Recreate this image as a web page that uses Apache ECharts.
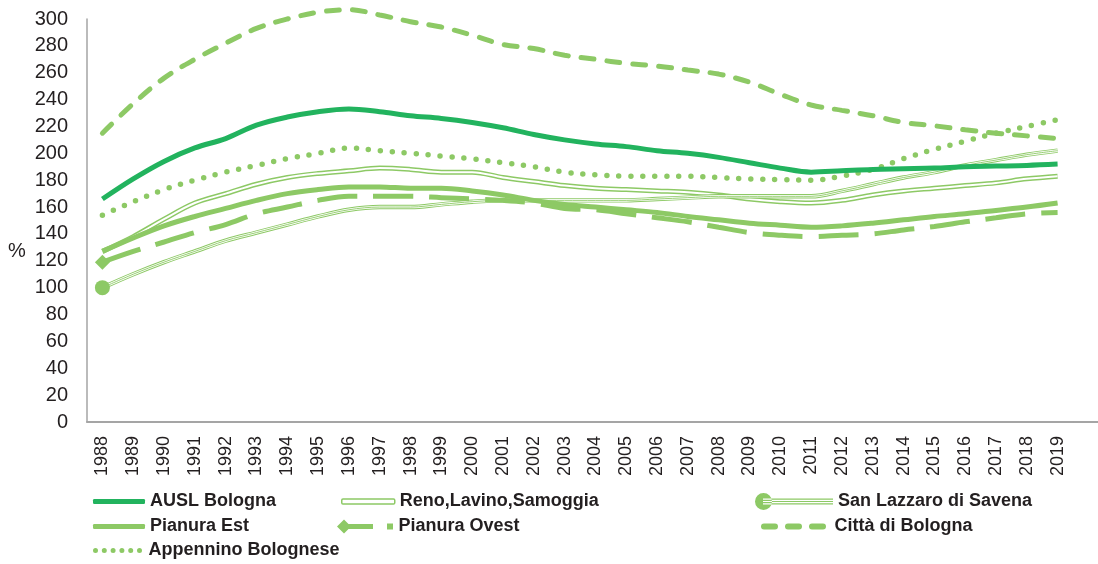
<!DOCTYPE html>
<html>
<head>
<meta charset="utf-8">
<script src="https://cdn.jsdelivr.net/npm/echarts@6/dist/echarts.min.js"></script>
<style>
  html, body { margin: 0; padding: 0; background: #fff; }
  #chart { width: 1098px; height: 564px; }
</style>
</head>
<body>
<div id="chart"></div>
<script>
const years = ["1988","1989","1990","1991","1992","1993","1994","1995","1996","1997","1998","1999","2000","2001","2002","2003","2004","2005","2006","2007","2008","2009","2010","2011","2012","2013","2014","2015","2016","2017","2018","2019"];

const ausl = [166,181,194,204,211,221,227,231,233,231,228,226,223,219,214,210,207,205,202,200,197,193,189,186,187,188,188.5,189,190,190.5,191,192];
const reno = [127,138,151,163,170,177,182,185,187,189,188,186,186,182,179,176,174,173,172,171,169,166,164,163,165,169,172,174,176,178,181,183];
const sanLazzaro = [100,110,119,127,135,141,147,153,158,160,160,162,164,165,165,165,165,165,166,167,168,168,168,168,172,177,182,186,191,195,199,202];
const pianuraEst = [127,137,146,153,159,165,170,173,175,175,174,174,172,169,165,162,160,158,156,153,150.5,148,146.5,145,146,148,150.5,153,155,157.5,160,163];
const pianuraOvest = [119,127,134,141,147,155,160,165,168,168,168,167,166,165,163,159,158,155,152,149,145,141,139,138,139,140,143,145.5,149,152,155,156];
const citta = [215,237,256,270,282,293,300,305,307,303,298,294,288,281,278,273,270,267,265,262,259,253,244,236,232,228,223,220.5,217.5,215,213,211];
const appennino = [154,164,173,180,186,191,196,200,204,202,200,198,196,193,190,186,184,183,183,183,182,181,180.5,180,183,188,196,203,209,215,220,225];

const yTicks = { min: 0, max: 300, interval: 20 };

const dark = "#22b35e";
const light = "#8dc965";
const textCol = "#231f20";
const sm = 0.35;

// first point only gets a marker
function firstMarked(arr, symbol, size) {
  return arr.map((v, i) => i === 0 ? { value: v, symbol: symbol, symbolSize: size } : v);
}

function dots(n, step, r) {
  let p = "";
  for (let i = 0; i < n; i++) {
    let cx = r + i * step;
    p += `M${cx - r} ${r}A${r} ${r} 0 1 0 ${cx + r} ${r}A${r} ${r} 0 1 0 ${cx - r} ${r}Z`;
  }
  return "path://" + p;
}

function dashes() {
  let p = "";
  [0, 24, 48].forEach(x => {
    p += `M${x + 3} 0L${x + 14} 0A3 3 0 0 1 ${x + 14} 6L${x + 3} 6A3 3 0 0 1 ${x + 3} 0Z`;
  });
  return "path://" + p;
}

const iconLazzaro = "path://M0 8.5A8.5 8.5 0 1 0 17 8.5A8.5 8.5 0 1 0 0 8.5Z" +
  "M8 5.5L78 5.5L78 6.7L8 6.7Z M8 7.9L78 7.9L78 9.1L8 9.1Z M8 10.3L78 10.3L78 11.5L8 11.5Z";
const iconOvest = "path://M0 7L7 0L14 7L7 14Z M7 4.5L36 4.5L36 9.5L7 9.5Z M50 4L56 4L56 10L50 10Z";

const legendFont = {
  fontFamily: "'Liberation Sans', Arial, sans-serif",
  fontWeight: "bold",
  fontSize: 18,
  color: textCol
};

function legendItem(name, left, center, w, h, icon, itemStyle) {
  return {
    left: left,
    top: center - 10.5,
    padding: 0,
    itemWidth: w,
    itemHeight: h,
    selectedMode: false,
    textStyle: legendFont,
    data: [{ name: name, icon: icon, itemStyle: itemStyle }]
  };
}

const rows = [503, 528, 552];

let chart = echarts.init(document.getElementById("chart"));

let option = {
  animation: false,
  backgroundColor: "#fff",
  grid: { left: 87, right: 25, top: 19, bottom: 142 },
  xAxis: {
    type: "category",
    data: years,
    boundaryGap: true,
    axisLine: { lineStyle: { color: "#a5a5a5", width: 2 } },
    axisTick: { show: false },
    axisLabel: {
      rotate: 90,
      margin: 14,
      interval: 0,
      fontFamily: "'Liberation Sans', Arial, sans-serif",
      fontSize: 18,
      color: textCol
    }
  },
  yAxis: {
    type: "value",
    min: yTicks.min,
    max: yTicks.max,
    interval: yTicks.interval,
    axisLine: { show: true, lineStyle: { color: "#a5a5a5", width: 1.5 } },
    axisTick: { show: false },
    splitLine: { show: false },
    axisLabel: {
      margin: 19,
      fontFamily: "'Liberation Sans', Arial, sans-serif",
      fontSize: 20,
      color: textCol
    }
  },
  graphic: [
    {
      type: "text",
      left: 8,
      top: 241,
      style: { text: "%", fontFamily: "'Liberation Sans', Arial, sans-serif", fontSize: 20, fill: textCol }
    },
    {
      type: "line",
      shape: { x1: 1073, y1: 422, x2: 1098, y2: 422 },
      style: { stroke: "#a5a5a5", lineWidth: 2 }
    }
  ],
  legend: [
    legendItem("AUSL Bologna", 93, rows[0], 52, 5, "roundRect", { color: dark, borderWidth: 0 }),
    legendItem("Pianura Est", 93, rows[1], 52, 5, "roundRect", { color: light, borderWidth: 0 }),
    legendItem("Appennino Bolognese", 93, rows[2], 52, 5, dots(6, 8.8, 2.5), { color: light, borderWidth: 0 }),
    legendItem("Reno,Lavino,Samoggia", 341, rows[0], 53, 5, "roundRect", { color: "#fff", borderColor: light, borderWidth: 1.5 }),
    legendItem("Pianura Ovest", 337, rows[1], 57, 14, iconOvest, { color: light, borderWidth: 0 }),
    legendItem("San Lazzaro di Savena", 755, rows[0], 78, 17, iconLazzaro, { color: light, borderWidth: 0 }),
    legendItem("Città di Bologna", 761, rows[1], 72, 6, dashes(), { color: light, borderWidth: 0 })
  ],
  series: [
    {
      name: "AUSL Bologna", type: "line", data: ausl, smooth: sm, symbol: "none", z: 9, clip: false,
      lineStyle: { color: dark, width: 5 }, itemStyle: { color: dark }
    },
    {
      name: "Reno,Lavino,Samoggia", type: "line", data: reno, smooth: sm, symbol: "none", z: 3, clip: false,
      lineStyle: { color: light, width: 5 }, itemStyle: { color: light }
    },
    {
      name: "reno_inner", type: "line", data: reno, smooth: sm, symbol: "none", z: 3, clip: false,
      lineStyle: { color: "#fff", width: 2 }, itemStyle: { color: "#fff" }
    },
    {
      name: "San Lazzaro di Savena", type: "line", data: firstMarked(sanLazzaro, "circle", 15),
      smooth: sm, symbol: "none", showSymbol: true, z: 4, clip: false,
      lineStyle: { color: light, width: 4.4 }, itemStyle: { color: light }
    },
    {
      name: "lazzaro_gap", type: "line", data: sanLazzaro, smooth: sm, symbol: "none", z: 4, clip: false,
      lineStyle: { color: "#fff", width: 2.6 }
    },
    {
      name: "lazzaro_mid", type: "line", data: sanLazzaro, smooth: sm, symbol: "none", z: 4, clip: false,
      lineStyle: { color: light, width: 0.9 }
    },
    {
      name: "Pianura Est", type: "line", data: pianuraEst, smooth: sm, symbol: "none", z: 5, clip: false,
      lineStyle: { color: light, width: 5 }, itemStyle: { color: light }
    },
    {
      name: "Pianura Ovest", type: "line", data: firstMarked(pianuraOvest, "diamond", 15),
      smooth: sm, symbol: "none", showSymbol: true, z: 6, clip: false,
      lineStyle: { color: light, width: 5, type: [40, 16] }, itemStyle: { color: light }
    },
    {
      name: "Città di Bologna", type: "line", data: citta, smooth: sm, symbol: "none", z: 7, clip: false,
      lineStyle: { color: light, width: 5, type: [13, 13], cap: "round" }, itemStyle: { color: light }
    },
    {
      name: "Appennino Bolognese", type: "line", data: appennino, smooth: sm, symbol: "none", z: 8, clip: false,
      lineStyle: { color: light, width: 5.5, type: [0, 12], cap: "round" }, itemStyle: { color: light }
    }
  ]
};

chart.setOption(option);
</script>
</body>
</html>
